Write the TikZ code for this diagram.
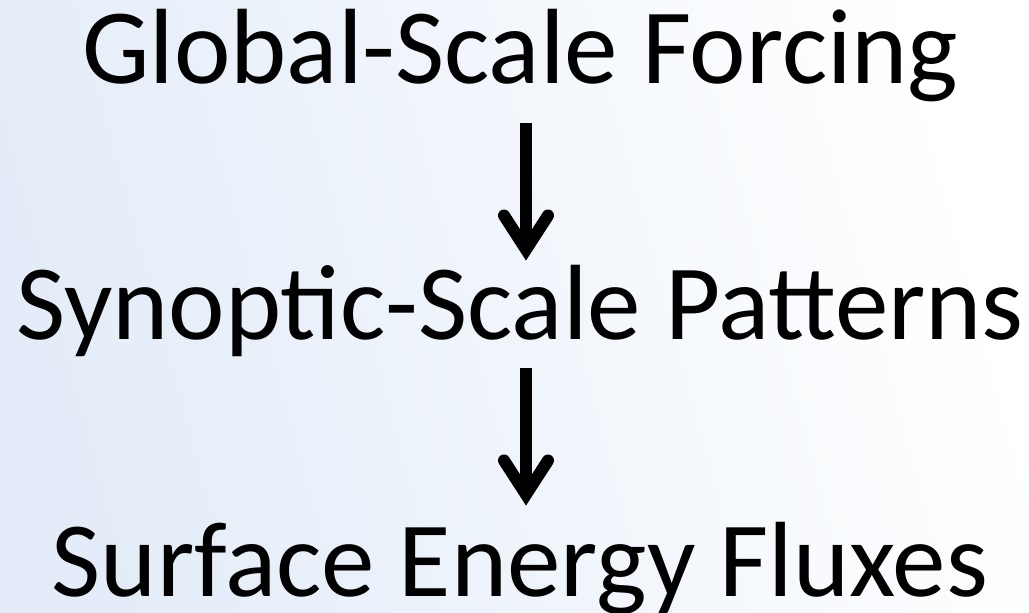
\documentclass[tikz,border=0pt]{standalone}
\usepackage{fontspec}
\setmainfont{Carlito}
\usetikzlibrary{calc}
\definecolor{bgblue}{HTML}{E3ECF8}
\tikzset{
  label/.style={anchor=base, inner sep=0pt, font=\fontsize{107}{120}\selectfont, text=black},
  arrowshaft/.style={draw=black, line width=12pt, line cap=butt},
  arrowhead/.style={draw=black, line width=12pt, line cap=round, line join=miter}
}
\begin{document}
\begin{tikzpicture}[x=1pt, y=-1pt]
\useasboundingbox (0,0) rectangle (1029,613);
\shade[left color=bgblue, right color=white, shading angle=105] (0,0) rectangle (1029,613);
\node[label] (global) at (520.5,83) {Global-Scale Forcing};
\node[label] (synoptic) at (520,339) {Synoptic-Scale Patterns};
\node[label] (surface) at (520,596) {Surface Energy Fluxes};
% arrow 1
\coordinate (a1top) at (526,123);
\coordinate (a1tip) at (526,249.5);
\draw[arrowshaft] (a1top) -- ($(a1tip)+(0,-4)$);
\draw[arrowhead] ($(a1tip)+(-22,-34)$) -- (a1tip) -- ($(a1tip)+(22,-34)$);
% arrow 2
\coordinate (a2top) at (526,368);
\coordinate (a2tip) at (526,494.5);
\draw[arrowshaft] (a2top) -- ($(a2tip)+(0,-4)$);
\draw[arrowhead] ($(a2tip)+(-22,-34)$) -- (a2tip) -- ($(a2tip)+(22,-34)$);
\end{tikzpicture}
\end{document}
